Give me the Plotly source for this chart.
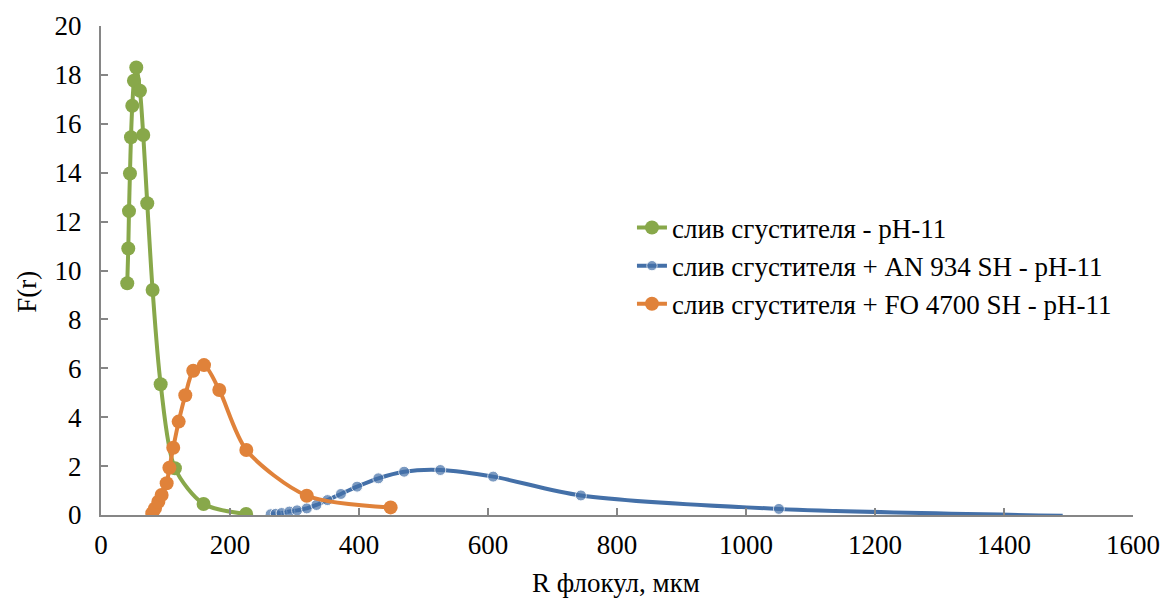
import plotly.graph_objects as go

# Data
green_name = "слив сгустителя - pH-11"
green_x = [40.7, 42.3, 43.4, 44.9, 46.5, 48.5, 51.1, 54.7, 60.4, 65.5, 71.7, 80.0, 92.5, 114.6, 159.0, 225.0]
green_y = [9.48, 10.9, 12.43, 13.97, 15.45, 16.74, 17.76, 18.3, 17.35, 15.54, 12.75, 9.2, 5.35, 1.91, 0.45, 0.04]

blue_name = "слив сгустителя + AN 934 SH - pH-11"
blue_x = [263, 271, 280, 292, 304, 319, 334, 351, 372, 397, 430, 470, 526, 608, 744, 1051, 1491]
blue_y = [0.03, 0.05, 0.08, 0.14, 0.19, 0.27, 0.41, 0.61, 0.86, 1.16, 1.50, 1.77, 1.84, 1.57, 0.80, 0.25, -0.03]
blue_marker = [True] * 16 + [False]

orange_name = "слив сгустителя + FO 4700 SH - pH-11"
orange_x = [79.5, 83.7, 88.9, 94.0, 101.8, 106.0, 112.0, 120.4, 130.7, 143.0, 159.7, 183.4, 225.3, 319.0, 449.0]
orange_y = [0.07, 0.27, 0.54, 0.82, 1.30, 1.93, 2.75, 3.82, 4.90, 5.90, 6.13, 5.11, 2.66, 0.79, 0.31]

x_title = "R флокул, мкм"
y_title = "F(r)"

GREEN = "#88A84A"
BLUE = "#4470A8"
ORANGE = "#E0823A"
FONT = "Liberation Serif, Times New Roman, serif"
FS = 27

fig = go.Figure()
fig.add_trace(go.Scatter(
    x=green_x, y=green_y, name=green_name, mode="lines+markers",
    line=dict(color=GREEN, width=4, shape="spline", smoothing=0.8),
    marker=dict(color=GREEN, size=14), legendgroup="g"))
fig.add_trace(go.Scatter(
    x=blue_x, y=blue_y, name=blue_name, mode="lines+markers",
    line=dict(color=BLUE, width=4, shape="spline", smoothing=0.8),
    marker=dict(color=BLUE, size=[11 if m else 0 for m in blue_marker]), legendgroup="b"))
fig.add_trace(go.Scatter(
    x=orange_x, y=orange_y, name=orange_name, mode="lines+markers",
    line=dict(color=ORANGE, width=4, shape="spline", smoothing=0.8),
    marker=dict(color=ORANGE, size=14), legendgroup="o"))

axis_common = dict(
    showgrid=False, zeroline=False, showline=True, linecolor="#868686", linewidth=2,
    ticks="inside", ticklen=7, tickwidth=1.5, tickcolor="#868686",
    tickfont=dict(family=FONT, size=FS, color="black"), automargin=False,
)
fig.update_xaxes(range=[0, 1600], dtick=200, ticklabelstandoff=5, **axis_common)
fig.update_yaxes(range=[0, 20], dtick=2, ticklabelstandoff=12, **axis_common)

fig.add_annotation(text=y_title, xref="paper", yref="paper", x=-0.072, y=0.456,
                   textangle=-90, showarrow=False, xanchor="center", yanchor="middle",
                   font=dict(family=FONT, size=FS, color="black"))
fig.add_annotation(text=x_title, xref="paper", yref="paper", x=0.499, y=-0.139,
                   showarrow=False, xanchor="center", yanchor="middle",
                   font=dict(family=FONT, size=FS, color="black"))

fig.update_layout(
    width=1163, height=601,
    margin=dict(l=101, r=30, t=26, b=86),
    paper_bgcolor="white", plot_bgcolor="white",
    font=dict(family=FONT, size=FS, color="black"),
    legend=dict(x=0.5145, y=0.637, xanchor="left", yanchor="top",
                font=dict(family=FONT, size=FS, color="black"),
                traceorder="grouped", tracegroupgap=0, bgcolor="rgba(0,0,0,0)"),
)

fig.write_html("out.html")
